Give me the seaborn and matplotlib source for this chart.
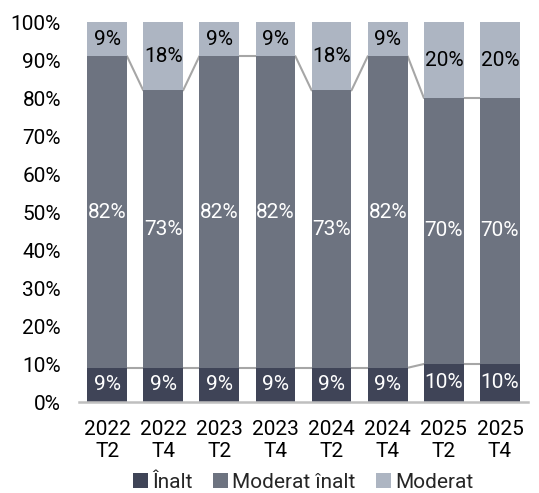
import numpy as np
import pandas as pd
import matplotlib
matplotlib.use("Agg")
import matplotlib.pyplot as plt
import seaborn as sns
from matplotlib.patches import Patch

categories = ["2022\nT2", "2022\nT4", "2023\nT2", "2023\nT4", "2024\nT2", "2024\nT4", "2025\nT2", "2025\nT4"]
inalt = [9, 9, 9, 9, 9, 9, 10, 10]
moderat_inalt = [82, 73, 82, 82, 73, 82, 70, 70]
moderat = [9, 18, 9, 9, 18, 9, 20, 20]
series_names = ["Înalt", "Moderat înalt", "Moderat"]
colors = ["#3f4457", "#6d7380", "#adb5c2"]

sns.set_theme(style="white")
plt.rcParams["font.family"] = ["Roboto", "DejaVu Sans"]

df = pd.DataFrame({"cat": categories, "a": inalt, "b": moderat_inalt, "c": moderat})
df["cum1"] = df["a"]
df["cum2"] = df["a"] + df["b"]
df["cum3"] = df["a"] + df["b"] + df["c"]

fig = plt.figure(figsize=(5.39, 4.93), dpi=100)
ax = fig.add_axes([79 / 539, 1 - 402 / 493, (528 - 79) / 539, (402 - 22) / 493])

w = 0.71
for col, c in [("cum3", colors[2]), ("cum2", colors[1]), ("cum1", colors[0])]:
    sns.barplot(data=df, x="cat", y=col, color=c, width=w, saturation=1, ax=ax,
                zorder=2, edgecolor="none", linewidth=0)

# series lines
n = len(categories)
for col in ["cum1", "cum2"]:
    vals = df[col].values
    for i in range(n - 1):
        ax.plot([i + w / 2, i + 1 - w / 2], [vals[i], vals[i + 1]], color="#a6a6a6", lw=1.5, zorder=1)

fs = 15
for i in range(n):
    ax.text(i, inalt[i] / 2, f"{inalt[i]}%", ha="center", va="center", color="white", fontsize=fs, zorder=3)
    ax.text(i, inalt[i] + moderat_inalt[i] / 2, f"{moderat_inalt[i]}%", ha="center", va="center", color="white", fontsize=fs, zorder=3)
    ax.text(i, df["cum2"][i] + moderat[i] / 2, f"{moderat[i]}%", ha="center", va="center", color="black", fontsize=fs, zorder=3)

ax.set_xlim(-0.5, n - 0.5)
ax.set_ylim(0, 100)
ax.set_yticks(np.arange(0, 101, 10))
ax.set_yticklabels([f"{v}%" for v in range(0, 101, 10)])
ax.set_xlabel("")
ax.set_ylabel("")
ax.tick_params(axis="both", length=0, labelsize=fs, colors="black")
ax.tick_params(axis="y", pad=13)
ax.tick_params(axis="x", pad=13)
for s in ["top", "right", "left"]:
    ax.spines[s].set_visible(False)
ax.spines["bottom"].set_color("#bfbfbf")
ax.spines["bottom"].set_linewidth(1.8)
ax.spines["bottom"].set_zorder(4)

handles = [Patch(facecolor=c, edgecolor="none") for c in colors]
fig.legend(handles, series_names, loc="center", bbox_to_anchor=(303 / 539, 1 - 482 / 493), ncol=3,
           frameon=False, fontsize=fs, handlelength=0.7, handleheight=0.7, handletextpad=0.2,
           columnspacing=1.0, borderaxespad=0)

fig.savefig("out.png", dpi=100)
